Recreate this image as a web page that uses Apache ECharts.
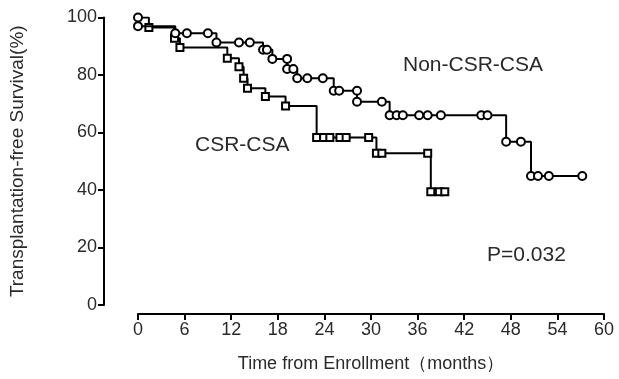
<!DOCTYPE html>
<html>
<head>
<meta charset="utf-8">
<script src="https://cdn.jsdelivr.net/npm/echarts@6/dist/echarts.min.js"></script>
<style>
  html, body { margin: 0; padding: 0; background: #fff; }
  #chart { width: 619px; height: 379px; }
</style>
</head>
<body>
<div id="chart"></div>
<script>
// Kaplan-Meier estimates: follow-up time (months) and survival (%) at each event / censoring
const nonCsrTime = [0, 0, 4.8, 6.3, 9.0, 10.1, 13.0, 14.4, 16.1, 16.6, 17.3, 19.2, 19.2, 20.0, 20.5, 21.8, 23.8, 25.2, 25.9, 28.2, 28.2, 31.4, 32.4, 33.3, 34.1, 36.2, 37.3, 39.0, 44.2, 45.0, 47.4, 49.3, 50.6, 51.5, 52.9, 57.2];
const nonCsrSurv = [100, 97, 94.5, 94.5, 94.5, 91.3, 91.3, 91.3, 88.8, 88.8, 85.6, 85.6, 82.1, 82.1, 78.9, 78.9, 78.9, 74.5, 74.5, 74.5, 70.7, 70.7, 66.0, 66.0, 66.0, 66.0, 66.0, 66.0, 66.0, 66.0, 56.8, 56.8, 44.9, 44.9, 44.9, 44.9];

const csrTime = [0, 1.4, 4.7, 5.4, 11.5, 13.0, 13.6, 14.1, 16.4, 19.0, 23.0, 23.9, 24.7, 26.0, 26.8, 29.7, 30.7, 31.4, 37.3, 37.7, 38.8, 39.5];
const csrSurv = [100, 96.5, 92.8, 89.6, 85.8, 82.9, 78.9, 75.4, 72.5, 69.2, 58.3, 58.3, 58.3, 58.3, 58.3, 58.3, 52.8, 52.8, 52.8, 39.4, 39.4, 39.4];

const xTicks = [0, 6, 12, 18, 24, 30, 36, 42, 48, 54, 60];
const yTicks = [0, 20, 40, 60, 80, 100];

const FONT = 'Liberation Sans, Arial, Helvetica, sans-serif';
const TEXT = '#2a2a2a';

function pairs(t, s, hideFirst) {
  return t.map((v, i) => {
    const item = { value: [v, s[i]] };
    if (hideFirst && i === 0) item.symbolSize = 0;
    return item;
  });
}

const chart = echarts.init(document.getElementById('chart'), null, { renderer: 'canvas' });

chart.setOption({
  animation: false,
  backgroundColor: '#ffffff',
  grid: { left: 137, right: 15, top: 17.5, bottom: 74, containLabel: false },
  xAxis: {
    type: 'value',
    min: 0, max: 60, interval: 6,
    offset: 9,
    name: 'Time from Enrollment（months）',
    nameLocation: 'middle',
    nameGap: 41,
    nameTextStyle: { fontFamily: FONT, fontSize: 18, color: TEXT },
    axisLine: { show: true, onZero: false, lineStyle: { color: '#000', width: 2 } },
    axisTick: { show: true, length: 6, lineStyle: { color: '#000', width: 2 } },
    axisLabel: {
      fontFamily: FONT, fontSize: 18, color: TEXT, margin: 7,
      formatter: v => xTicks.includes(v) ? String(v) : ''
    },
    splitLine: { show: false }
  },
  yAxis: {
    type: 'value',
    min: 0, max: 100, interval: 20,
    offset: 34,
    name: 'Transplantation-free Survival(%)',
    nameLocation: 'middle',
    nameGap: 77,
    nameRotate: 90,
    nameTextStyle: { fontFamily: FONT, fontSize: 19, color: TEXT },
    axisLine: { show: true, onZero: false, lineStyle: { color: '#000', width: 2 } },
    axisTick: { show: true, length: 6, lineStyle: { color: '#000', width: 2 } },
    axisLabel: {
      fontFamily: FONT, fontSize: 18, color: TEXT, margin: 7,
      formatter: v => yTicks.includes(v) ? String(v) : ''
    },
    splitLine: { show: false }
  },
  series: [
    {
      name: 'CSR-CSA',
      type: 'line',
      step: 'end',
      data: pairs(csrTime, csrSurv, true),
      symbol: 'rect',
      symbolSize: 7,
      showAllSymbol: true,
      lineStyle: { color: '#000', width: 2 },
      itemStyle: { color: '#fff', borderColor: '#000', borderWidth: 2 },
      z: 2
    },
    {
      name: 'Non-CSR-CSA',
      type: 'line',
      step: 'end',
      data: pairs(nonCsrTime, nonCsrSurv, false),
      symbol: 'circle',
      symbolSize: 8,
      showAllSymbol: true,
      lineStyle: { color: '#000', width: 2 },
      itemStyle: { color: '#fff', borderColor: '#000', borderWidth: 2 },
      z: 3
    }
  ],
  graphic: [
    { type: 'text', left: 403, top: 55, style: { text: 'Non-CSR-CSA', font: '21px ' + FONT, fill: TEXT } },
    { type: 'text', left: 195, top: 135, style: { text: 'CSR-CSA', font: '21px ' + FONT, fill: TEXT } },
    { type: 'text', left: 487, top: 245, style: { text: 'P=0.032', font: '21px ' + FONT, fill: TEXT } }
  ]
});
</script>
</body>
</html>
